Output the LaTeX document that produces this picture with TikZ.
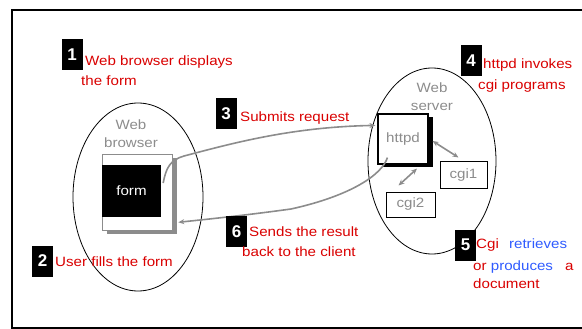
\documentclass[tikz,border=0pt]{standalone}
\usepackage{fontspec}
\setmainfont{Liberation Sans}
\newfontfamily\lblfont[FakeStretch=1.12]{Liberation Sans}
\usetikzlibrary{shadows,arrows.meta}

\begin{document}
\begin{tikzpicture}[x=1pt,y=-1pt,>={Stealth[length=6pt,width=5pt]}]
    %colores
    \colorlet{lred}{red!85!black}
    \definecolor{lblue}{HTML}{2F5BFF}
    \colorlet{lgray}{black!45}
    \tikzset{
        numbox/.style={fill=black,text=white,minimum width=21pt,minimum height=31pt,
            inner sep=0pt,font=\fontsize{17}{17}\selectfont\bfseries},
        lbl/.style={anchor=west,inner sep=0pt,text height=10pt,text depth=3pt,
            font=\lblfont\fontsize{13.5}{16}\selectfont,text=lred},
        grey/.style={inner sep=0pt,align=center,text=lgray,
            font=\lblfont\fontsize{13.5}{18}\selectfont},
        conn/.style={draw=lgray,line width=1.6pt},
    }
    \useasboundingbox (0,0) rectangle (582,329);

    % marco
    \draw[line width=1.5pt] (582,10) -- (12,10) -- (12,328) -- (582,328);

    % cliente y servidor
    \draw[line width=0.8pt] (138,197) ellipse [x radius=65pt, y radius=94pt];
    \draw[line width=0.8pt] (432,161) ellipse [x radius=64pt, y radius=93pt];
    \node[grey] (browser) at (131,134) {Web\\browser};
    \node[grey] (server) at (432,97) {Web\\server};

    % ventana con el formulario
    \node[draw=lgray,fill=white,line width=0.6pt,minimum width=70pt,minimum height=76pt,
        drop shadow={shadow xshift=5pt,shadow yshift=-4pt,fill=gray!90,opacity=1}] (window) at (137,192) {};
    \node[fill=black,text=white,minimum width=59pt,minimum height=52pt,inner sep=0pt,
        font=\lblfont\fontsize{13.5}{16}\selectfont] (form) at (131.5,191) {form};

    % httpd y programas cgi
    \node[draw,line width=1.2pt,fill=white,minimum size=50pt,text=lgray,
        font=\lblfont\fontsize{13.5}{16}\selectfont,
        drop shadow={shadow xshift=5pt,shadow yshift=-3pt,fill=black,opacity=1}] (httpd) at (403,139) {httpd};
    \node[draw,line width=1pt,fill=white,minimum width=47pt,minimum height=26pt,text=lgray,
        font=\lblfont\fontsize{13.5}{16}\selectfont] (cgi1) at (463.5,175) {cgi1};
    \node[draw,line width=1pt,fill=white,minimum width=49pt,minimum height=25pt,text=lgray,
        font=\lblfont\fontsize{13.5}{16}\selectfont] (cgi2) at (410.5,204.5) {cgi2};

    % conexiones
    \draw[conn,->] ([xshift=2pt,yshift=8pt]form.east) .. controls (166,168) and (170,160) .. (184,156)
        .. controls (230,144) and (290,127) .. ([xshift=-2pt,yshift=-12pt]httpd.north west);
    \draw[conn,->] ([xshift=10pt,yshift=7pt]httpd.south west) .. controls (382,175) and (350,196) .. (291,209)
        .. controls (240,216) and (200,220) .. ([xshift=6pt,yshift=8pt]window.south east);
    \draw[conn,<->] ([xshift=4pt,yshift=-2pt]httpd.east) -- ([xshift=-5pt,yshift=4pt]cgi1.north);
    \draw[conn,<->] ([xshift=14pt,yshift=-4pt]httpd.south) -- ([xshift=-12pt,yshift=6pt]cgi2.north);

    % pasos
    \foreach \n/\x/\y in {1/72/55, 2/42.5/261, 3/226/114, 4/471/60.5, 5/465.5/245, 6/236.5/231.5}
        \node[numbox] (num\n) at (\x,\y) {\n};

    \node[lbl] (t1a) at (85,62) {Web browser displays};
    \node[lbl] (t1b) at (81,82) {the form};
    \node[lbl] (t2) at (55,263) {User fills the form};
    \node[lbl] (t3) at (240,118) {Submits request};
    \node[lbl] (t4a) at (483,65) {httpd invokes};
    \node[lbl] (t4b) at (478,86) {cgi programs};
    \node[lbl] (t5a) at (476,245) {Cgi\hspace{6pt} \textcolor{lblue}{retrieves}};
    \node[lbl] (t5b) at (473,267) {or \textcolor{lblue}{produces}\hspace{8pt} a};
    \node[lbl] (t5c) at (473,285) {document};
    \node[lbl] (t6a) at (249,233) {Sends the result};
    \node[lbl] (t6b) at (242,253) {back to the client};
\end{tikzpicture}
\end{document}
